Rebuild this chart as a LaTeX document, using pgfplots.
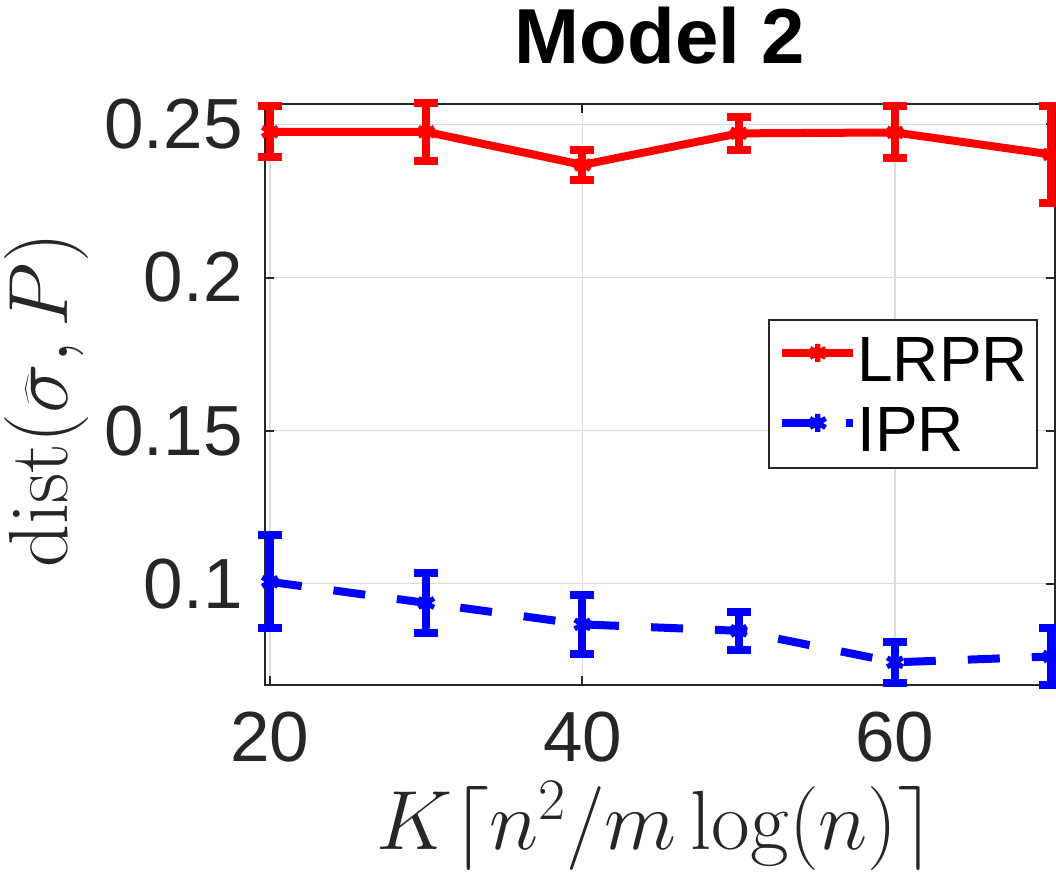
\RequirePackage{fix-cm}
\documentclass[border=0pt]{standalone}
\usepackage{fontspec}
\newfontfamily\helv{Liberation Sans}
\usepackage{pgfplots}
\pgfplotsset{compat=1.18}
\definecolor{axgray}{gray}{0.15}
\definecolor{gridgray}{gray}{0.86}
\begin{document}
\begin{tikzpicture}
\useasboundingbox (-132.5pt,-95.5pt) rectangle (395.5pt,342.5pt);
\begin{axis}[
  scale only axis, width=395pt, height=290.5pt,
  xmin=19.68, xmax=70.24, ymin=0.0669, ymax=0.2567,
  clip=false,
  xtick={20,40,60}, xticklabels={20,40,60},
  ytick={0.1,0.15,0.2,0.25}, yticklabels={0.1,0.15,0.2,0.25},
  grid=major, major grid style={gridgray, line width=0.8pt},
  axis line style={axgray, line width=1pt},
  tick style={axgray, line width=1pt},
  major tick length=4.5pt, tick align=inside,
  ticklabel style={font=\helv\fontsize{35.5}{40}\selectfont, text=axgray},
  xticklabel style={anchor=north, inner sep=0pt, yshift=-13.5pt},
  yticklabel style={anchor=east, inner sep=0pt, xshift=-11pt},
  title={Model 2},
  title style={font=\helv\bfseries\fontsize{39}{44}\selectfont, at={(axis description cs:0.5,1.0964)}, anchor=center, inner sep=0pt},
  xlabel={$K\lceil n^2/m\log(n)\rceil$},
  xlabel style={font=\fontsize{42}{48}\selectfont, text=axgray, at={(axis description cs:0.4943,-0.284)}, anchor=base, inner sep=0pt},
  ylabel={$\mathrm{dist}(\widehat{\sigma}, P)$},
  ylabel style={font=\fontsize{42}{48}\selectfont, text=axgray, at={(axis description cs:-0.2494,0.4905)}, anchor=base, inner sep=0pt},
  legend style={at={(axis description cs:0.9785,0.63)}, anchor=north east, draw=axgray, line width=1pt,
    font=\helv\fontsize{32}{36}\selectfont, inner xsep=4.5pt, inner ysep=8pt, row sep=12pt,
    nodes={inner sep=0pt, text height=23pt, text depth=0pt}, /tikz/every even column/.style={column sep=3pt}},
  legend cell align=left,
  legend image code/.code={
    \draw[mark repeat=2,mark phase=2,#1] plot coordinates {(0pt,3pt) (17.75pt,3pt) (35.5pt,3pt)};},
]
\addplot[red, line width=4pt, line join=round, mark=asterisk, mark size=4.5pt,
  mark options={line width=2.6pt, solid},
  error bars/.cd, y dir=both, y explicit,
  error bar style={line width=4pt, solid, red},
  error mark options={rotate=90, mark size=6pt, line width=4pt, red, solid}]
coordinates {
(20,0.2476) +- (0,0.0083)
(30,0.2476) +- (0,0.0094)
(40,0.2368) +- (0,0.0048)
(50,0.2471) +- (0,0.0055)
(60,0.2474) +- (0,0.0085)
(70,0.2402) +- (0,0.0158)
};
\addlegendentry{LRPR}
\addplot[blue, line width=4pt, dash pattern=on 16pt off 16pt, mark=asterisk, mark size=4.5pt,
  mark options={line width=2.6pt, solid},
  error bars/.cd, y dir=both, y explicit,
  error bar style={line width=4pt, solid, blue},
  error mark options={rotate=90, mark size=6pt, line width=4pt, blue, solid}]
coordinates {
(20,0.1006) +- (0,0.0152)
(30,0.0937) +- (0,0.0098)
(40,0.0867) +- (0,0.0097)
(50,0.0846) +- (0,0.0063)
(60,0.0743) +- (0,0.0068)
(70,0.0762) +- (0,0.0092)
};
\addlegendentry{IPR}
\end{axis}
\end{tikzpicture}
\end{document}
